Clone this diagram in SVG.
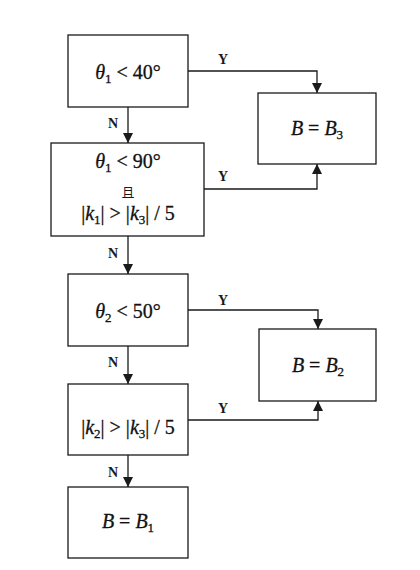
<svg xmlns="http://www.w3.org/2000/svg" width="420" height="570" viewBox="0 0 420 570">
<style>
.box{fill:#fff;stroke:#1a1a1a;stroke-width:1.3}
.ln{fill:none;stroke:#1a1a1a;stroke-width:1.3;marker-end:url(#ah)}
.t{font-family:"Liberation Serif","Times New Roman","DejaVu Serif",serif;font-size:20px;fill:#111;text-anchor:middle;stroke:#111;stroke-width:0.3}
.i{font-style:italic}
.s{font-size:13px}
.lb{font-family:"Liberation Serif","Times New Roman",serif;font-size:14px;font-weight:bold;fill:#1a1a1a;text-anchor:middle}
.cj{font-family:"Noto Sans CJK SC","Noto Sans CJK TC",sans-serif;font-size:13px;fill:#1a1a1a;text-anchor:middle}
</style>
<defs>
<marker id="ah" markerUnits="userSpaceOnUse" markerWidth="10" markerHeight="12" viewBox="0 0 10 12" refX="10" refY="5" orient="auto">
<path d="M0,0 L10,5 L0,10 Z" fill="#1a1a1a"/>
</marker>
</defs>
<rect width="420" height="570" fill="#fff"/>
<g id="connectors">
<path class="ln" d="M128,107 V143"/>
<path class="ln" d="M188,71 H317 V93"/>
<path class="ln" d="M204,189 H317 V164"/>
<path class="ln" d="M128,236 V274"/>
<path class="ln" d="M188,310 H318 V329"/>
<path class="ln" d="M128,346 V384"/>
<path class="ln" d="M188,420 H318 V401"/>
<path class="ln" d="M128,455 V487"/>
<text class="lb" x="113" y="128">N</text>
<text class="lb" x="113" y="258">N</text>
<text class="lb" x="113" y="367">N</text>
<text class="lb" x="113" y="477">N</text>
<text class="lb" x="223" y="64">Y</text>
<text class="lb" x="223" y="181">Y</text>
<text class="lb" x="223" y="305">Y</text>
<text class="lb" x="223" y="413">Y</text>
</g>
<g id="n1">
<rect class="box" x="68" y="35" width="120" height="72"/>
<text class="t" x="128" y="79"><tspan class="i">θ</tspan><tspan class="s" dy="4">1</tspan><tspan dy="-4"> &lt; 40°</tspan></text>
</g>
<g id="n2">
<rect class="box" x="51" y="143" width="153" height="93"/>
<text class="t" x="128" y="168"><tspan class="i">θ</tspan><tspan class="s" dy="4">1</tspan><tspan dy="-4"> &lt; 90°</tspan></text>
<text class="cj" x="128" y="197">且</text>
<text class="t" x="128" y="220">|<tspan class="i">k</tspan><tspan class="s" dy="4">1</tspan><tspan dy="-4">| &gt; |</tspan><tspan class="i">k</tspan><tspan class="s" dy="4">3</tspan><tspan dy="-4">| / 5</tspan></text>
</g>
<g id="n3">
<rect class="box" x="258" y="93" width="118" height="71"/>
<text class="t" x="317" y="135"><tspan class="i">B</tspan> = <tspan class="i">B</tspan><tspan class="s" dy="4">3</tspan></text>
</g>
<g id="n4">
<rect class="box" x="68" y="274" width="120" height="72"/>
<text class="t" x="128" y="318"><tspan class="i">θ</tspan><tspan class="s" dy="4">2</tspan><tspan dy="-4"> &lt; 50°</tspan></text>
</g>
<g id="n5">
<rect class="box" x="259" y="329" width="117" height="72"/>
<text class="t" x="318" y="372"><tspan class="i">B</tspan> = <tspan class="i">B</tspan><tspan class="s" dy="4">2</tspan></text>
</g>
<g id="n6">
<rect class="box" x="68" y="384" width="120" height="71"/>
<text class="t" x="128" y="434">|<tspan class="i">k</tspan><tspan class="s" dy="4">2</tspan><tspan dy="-4">| &gt; |</tspan><tspan class="i">k</tspan><tspan class="s" dy="4">3</tspan><tspan dy="-4">| / 5</tspan></text>
</g>
<g id="n7">
<rect class="box" x="68" y="487" width="120" height="71"/>
<text class="t" x="128" y="528"><tspan class="i">B</tspan> = <tspan class="i">B</tspan><tspan class="s" dy="4">1</tspan></text>
</g>
</svg>
